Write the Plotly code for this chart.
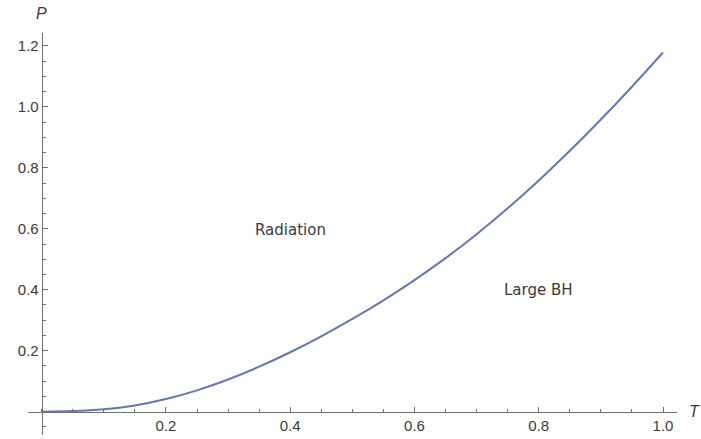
import plotly.graph_objects as go

# Coexistence line between the radiation phase and the large black hole phase
T_vals = [0.0, 0.05, 0.10, 0.15, 0.20, 0.25, 0.30, 0.35, 0.40, 0.45, 0.50,
          0.55, 0.60, 0.65, 0.70, 0.75, 0.80, 0.85, 0.90, 0.95, 1.00]
P_vals = [0.0, 0.002, 0.008, 0.0207, 0.0415, 0.0701, 0.1057, 0.1476, 0.195, 0.2473, 0.3041,
          0.3653, 0.4315, 0.5036, 0.5821, 0.667, 0.7583, 0.8556, 0.9583, 1.0659, 1.178]

x_ticks = [0.2, 0.4, 0.6, 0.8, 1.0]
y_ticks = [0.2, 0.4, 0.6, 0.8, 1.0, 1.2]

phase_labels = ["Radiation", "Large BH"]
phase_T = [0.40, 0.80]
phase_P = [0.595, 0.40]

x_range = [-0.022, 1.0225]
y_range = [-0.0764, 1.242]

LINE_BLUE = "#6478b0"
AXIS_GRAY = "#6f6f6f"
TEXT_GRAY = "#3a3a3a"
TICK_FONT = "Liberation Sans"
LABEL_FONT = "DejaVu Sans"

fig = go.Figure()
fig.add_trace(go.Scatter(
    x=T_vals, y=P_vals, mode="lines",
    line=dict(color=LINE_BLUE, width=2, shape="spline", smoothing=0.8),
    hoverinfo="skip", showlegend=False,
))

axis_common = dict(
    showgrid=False, zeroline=False, showline=True,
    linecolor=AXIS_GRAY, linewidth=1,
    ticks="inside", ticklen=5, tickwidth=1, tickcolor=AXIS_GRAY,
    tickfont=dict(family=TICK_FONT, size=15, color=TEXT_GRAY),
    tickformat=".1f",
    minor=dict(dtick=0.05, tick0=0, ticks="inside", ticklen=3,
               tickcolor=AXIS_GRAY, tickwidth=1, showgrid=False),
)

# Axes cross at the origin, as in a classic phase diagram
x_pos = (0 - y_range[0]) / (y_range[1] - y_range[0])
y_pos = (0 - x_range[0]) / (x_range[1] - x_range[0])

fig.update_layout(
    width=701, height=439,
    margin=dict(l=28, r=24, t=33, b=4),
    paper_bgcolor="white", plot_bgcolor="white",
    xaxis=dict(range=x_range, tickvals=x_ticks, anchor="free", position=x_pos,
               **axis_common),
    yaxis=dict(range=y_range, tickvals=y_ticks, anchor="free", position=y_pos,
               **axis_common),
    font=dict(family=TICK_FONT, color=TEXT_GRAY),
)

for label, tx, py in zip(phase_labels, phase_T, phase_P):
    fig.add_annotation(x=tx, y=py, xref="x", yref="y", text=label, showarrow=False,
                       font=dict(family=LABEL_FONT, size=15, color=TEXT_GRAY))

# Axis names at the ends of the axes
fig.add_annotation(x=1, y=0, xref="paper", yref="y", text="<i>T</i>", showarrow=False,
                   xanchor="left", yanchor="middle", xshift=10, yshift=0,
                   font=dict(family=TICK_FONT, size=16, color=TEXT_GRAY))
fig.add_annotation(x=0, y=1, xref="x", yref="paper", text="<i>P</i>", showarrow=False,
                   xanchor="center", yanchor="bottom", yshift=9,
                   font=dict(family=TICK_FONT, size=16, color=TEXT_GRAY))

fig.write_html("out.html")
